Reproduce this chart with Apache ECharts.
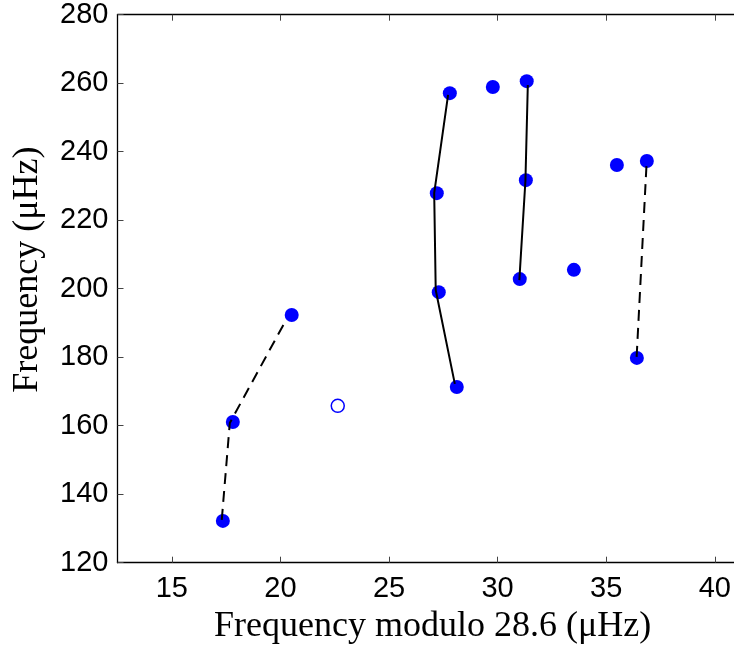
<!DOCTYPE html>
<html>
<head>
<meta charset="utf-8">
<script src="https://cdn.jsdelivr.net/npm/echarts@6/dist/echarts.min.js"></script>
<style>
  html, body { margin: 0; padding: 0; background: #fff; }
  #chart { width: 734px; height: 646px; }
</style>
</head>
<body>
<div id="chart"></div>
<script>
// observed modes (filled dots)
const modeX = [17.35, 17.81, 20.52, 28.12, 27.29, 27.20, 27.80, 29.78, 31.34, 31.30, 31.02, 33.51, 35.49, 36.87, 36.41]
const modeY = [132.2, 161.1, 192.3, 171.3, 199.0, 227.9, 257.1, 258.9, 260.6, 231.7, 202.8, 205.5, 236.1, 237.3, 179.8]
// uncertain mode (open circle)
const openX = [22.64]
const openY = [165.8]
// ridges
const ridgeA = [[17.30, 132.5], [17.67, 160.8], [20.28, 191.1]]   // dashed
const ridgeB = [[28.03, 172.2], [27.15, 199.6], [27.08, 227.9], [27.72, 256.6]] // solid
const ridgeC = [[31.00, 202.5], [31.28, 231.5], [31.39, 259.5]]  // solid
const ridgeD = [[36.40, 180.1], [36.86, 236.8]]  // dashed
const xTicks = [15, 20, 25, 30, 35, 40]
const yTicks = [120, 140, 160, 180, 200, 220, 240, 260, 280]

const blue = '#0000ff'
const tickFont = { fontFamily: 'Liberation Sans', fontSize: 29, color: '#000' }
const nameFont = { fontFamily: 'Liberation Serif', fontSize: 36, color: '#000' }

let chart = echarts.init(document.getElementById('chart'))

const ridge = (data, dashed) => ({
  type: 'line',
  data: data,
  symbol: 'none',
  z: 5,
  silent: true,
  lineStyle: { color: '#000', width: 2, opacity: 1, type: dashed ? [11, 7] : 'solid' }
})

const xBase = {
  type: 'value', min: 12.5, max: 41.2,
  axisLine: { show: true, lineStyle: { color: '#000', width: 1.3 } },
  axisTick: { show: true, inside: true, length: 6, customValues: xTicks, lineStyle: { color: '#444', width: 1 } },
  splitLine: { show: false }
}
const yBase = {
  type: 'value', min: 120, max: 280, interval: 20,
  axisLine: { show: true, lineStyle: { color: '#000', width: 1.3 } },
  axisTick: { show: true, inside: true, length: 6, lineStyle: { color: '#444', width: 1 } },
  splitLine: { show: false }
}

chart.setOption({
  animation: false,
  grid: { left: 117.5, top: 14.7, right: -6.9, bottom: 83.3, outerBoundsMode: 'none' },
  xAxis: [
    Object.assign({}, xBase, {
      position: 'bottom',
      axisLabel: Object.assign({ customValues: xTicks, margin: 12 }, tickFont),
      name: 'Frequency modulo 28.6 (μHz)',
      nameLocation: 'middle',
      nameGap: 45,
      nameTextStyle: Object.assign({ padding: [0, 0, 0, 7] }, nameFont)
    }),
    Object.assign({}, xBase, { position: 'top', axisLabel: { show: false } })
  ],
  yAxis: [
    Object.assign({}, yBase, {
      position: 'left',
      axisLabel: Object.assign({ margin: 9 }, tickFont),
      name: 'Frequency (μHz)',
      nameLocation: 'middle',
      nameGap: 72,
      nameTextStyle: Object.assign({ padding: [0, 0, 0, 38] }, nameFont)
    }),
    Object.assign({}, yBase, { position: 'right', axisLabel: { show: false } })
  ],
  series: [
    {
      type: 'scatter',
      data: modeX.map((x, i) => [x, modeY[i]]),
      symbol: 'circle',
      symbolSize: 14,
      z: 3,
      itemStyle: { color: blue, opacity: 1 }
    },
    {
      type: 'scatter',
      data: openX.map((x, i) => [x, openY[i]]),
      symbol: 'circle',
      symbolSize: 13,
      z: 3,
      itemStyle: { color: '#fff', borderColor: blue, borderWidth: 1.5, opacity: 1 }
    },
    ridge(ridgeA, true),
    ridge(ridgeB, false),
    ridge(ridgeC, false),
    ridge(ridgeD, true)
  ]
})

window.addEventListener('resize', () => {
  if (chart) chart.resize()
})
</script>
</body>
</html>
